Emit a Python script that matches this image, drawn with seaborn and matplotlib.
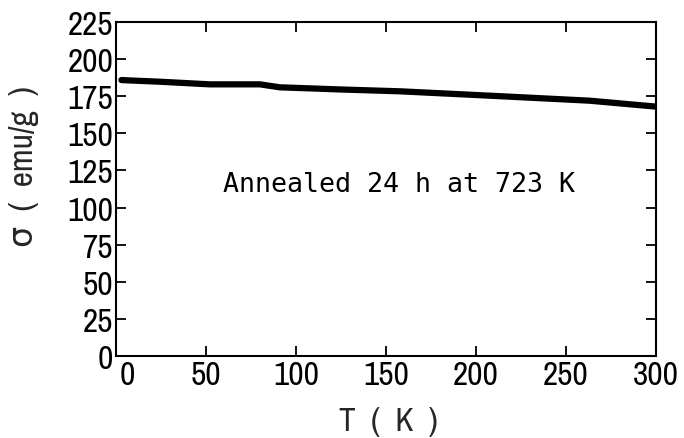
import matplotlib
matplotlib.use("Agg")
import matplotlib.pyplot as plt
import matplotlib.transforms as mtransforms
from matplotlib import font_manager
import seaborn as sns
import pandas as pd

# Data
temperature = [3, 10, 24, 52, 80, 91, 126, 158, 207, 263, 300]
sigma = [185.9, 185.5, 184.8, 183.0, 183.0, 181.0, 179.5, 178.3, 175.4, 172.0, 168.0]
x_ticks = [0, 50, 100, 150, 200, 250, 300]
y_ticks = [0, 25, 50, 75, 100, 125, 150, 175, 200, 225]
annotation = "Annealed 24 h at 723 K"
x_label = "T  (  K  )"
y_label = "σ  (  emu/g  )"

df = pd.DataFrame({"T": temperature, "sigma": sigma})

# prefer a condensed sans face if one is installed
names = sorted({f.name for f in font_manager.fontManager.ttflist})
narrow_name = None
for n in names:
    low = n.lower()
    if ("narrow" in low or "condensed" in low) and "mono" not in low and "serif" not in low.replace("sans", ""):
        narrow_name = n
        break
main_font = narrow_name if narrow_name else "Liberation Sans"

sns.set_style("ticks")
plt.rcParams["font.family"] = [main_font, "DejaVu Sans"]

fig = plt.figure(figsize=(6.84, 4.39), dpi=100)
ax = fig.add_axes([116 / 684, 1 - 357 / 439, 540 / 684, 334 / 439])

sns.lineplot(data=df, x="T", y="sigma", ax=ax, color="black", linewidth=4.5,
             solid_capstyle="round")

ax.set_xlim(0, 300)
ax.set_ylim(0, 225)
ax.set_xticks(x_ticks)
ax.set_yticks(y_ticks)
tick_size = 24 if narrow_name else 20
ax.tick_params(direction="in", length=7, width=1.3, top=True, right=True,
               labelsize=tick_size, colors="black", pad=2)
ax.tick_params(axis="x", pad=3)
for s in ax.spines.values():
    s.set_visible(True)
    s.set_linewidth(1.5)
    s.set_color("black")

# the first x tick label sits a little to the right of its tick in the reference
first = ax.get_xticklabels()[0]
first.set_transform(first.get_transform() +
                    mtransforms.ScaledTranslation(11 / 100, 0, fig.dpi_scale_trans))

ax.set_xlabel(x_label, fontsize=tick_size)
ax.set_ylabel(y_label, fontsize=tick_size)
ax.xaxis.set_label_coords(0.504, -0.15)
ax.yaxis.set_label_coords(-0.143, 0.57)

ax.text(59.5, 116, annotation, family=["DejaVu Sans Mono"], fontsize=19.2,
        ha="left", va="center", color="black")

fig.savefig("out.png", dpi=100)
